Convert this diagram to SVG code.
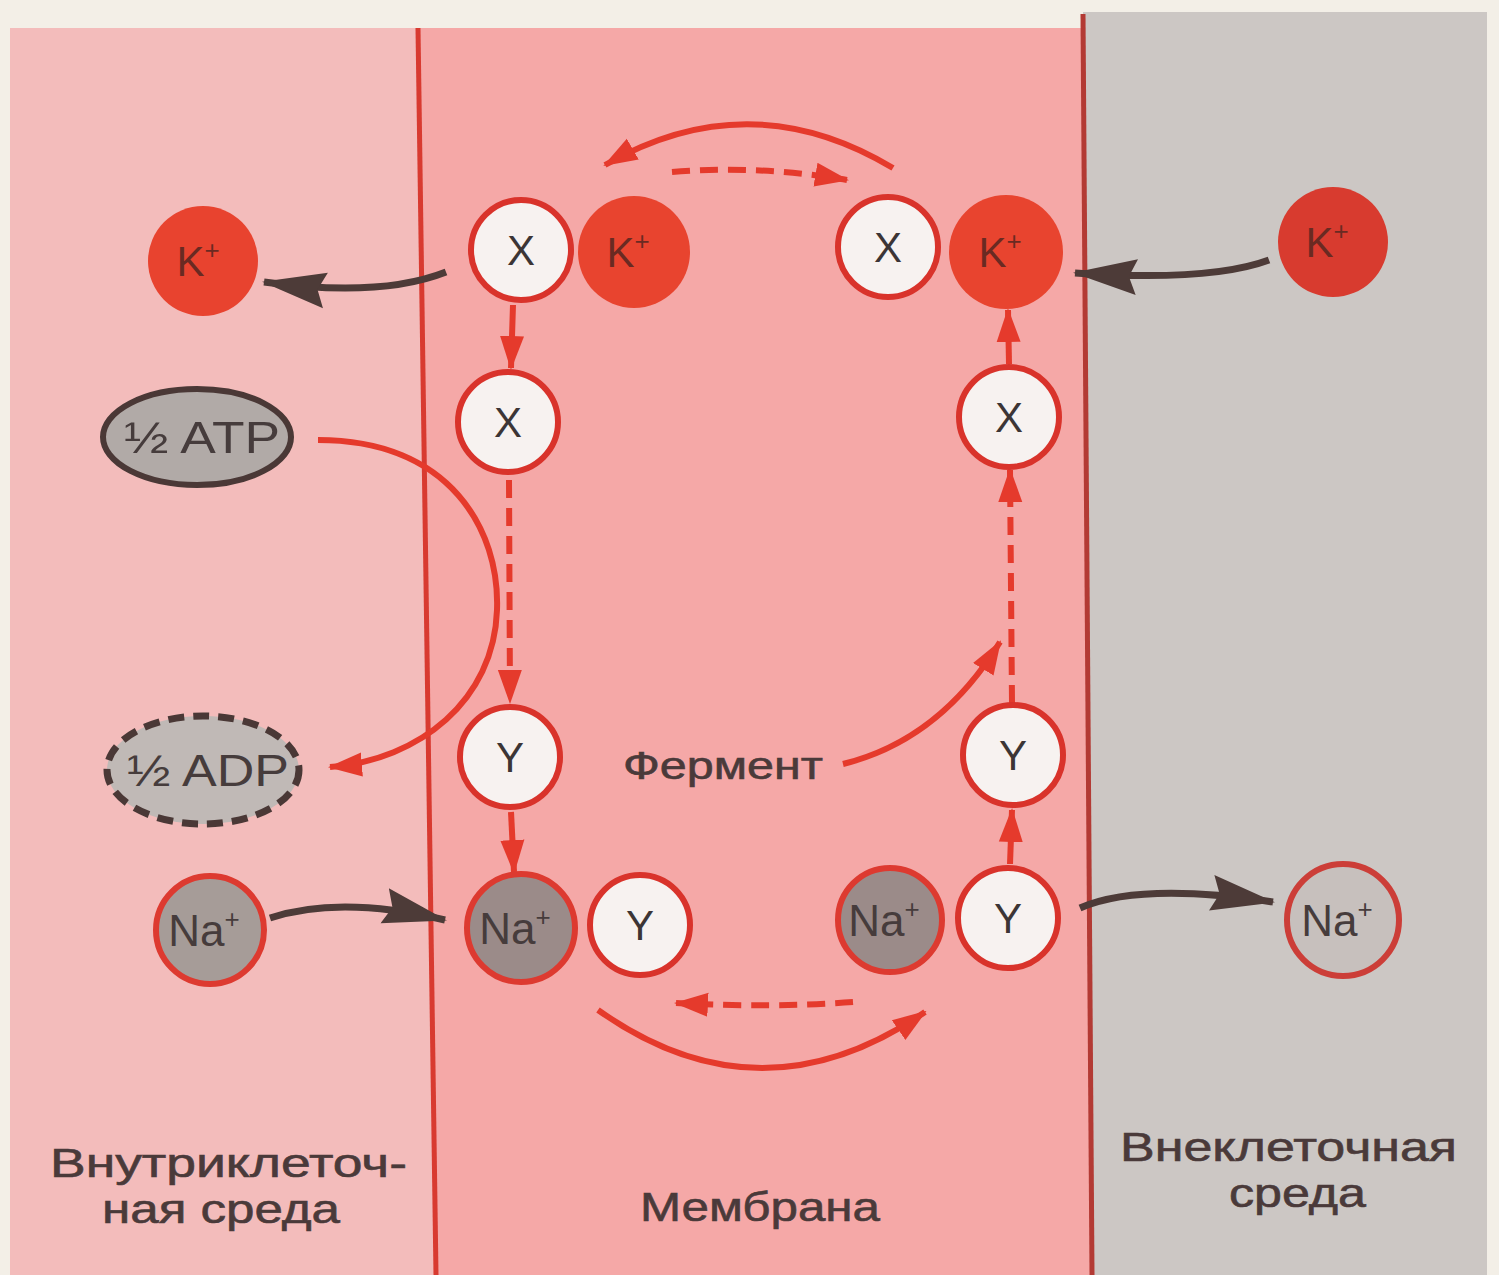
<svg xmlns="http://www.w3.org/2000/svg" width="1499" height="1275" viewBox="0 0 1499 1275">
<defs>
<style>
.lbl{font-family:"Liberation Sans",Arial,sans-serif;fill:#4a3a3a;stroke:#4a3a3a;stroke-width:0.6}
.ct{font-family:"Liberation Sans",Arial,sans-serif;font-size:42px;fill:#3c3535;text-anchor:middle}
.kt{font-family:"Liberation Sans",Arial,sans-serif;font-size:42px;fill:#6a2a22;text-anchor:middle}
.nt{font-family:"Liberation Sans",Arial,sans-serif;font-size:44px;fill:#463c3c;text-anchor:middle}
.w{fill:#f7f2f0;stroke:#d9332b;stroke-width:6}
.k{fill:#e8442f}
.na{fill:#9b8b89;stroke:#dd3a30;stroke-width:6}
.ra{fill:none;stroke:#e53a2c;stroke-width:6}
.rd{fill:none;stroke:#e53a2c;stroke-width:6;stroke-dasharray:18 10}
.da{fill:none;stroke:#4d3b38;stroke-width:7}
</style>
<marker id="rh" markerUnits="userSpaceOnUse" markerWidth="34" markerHeight="28" refX="32" refY="14" orient="auto">
<path d="M0,2 L34,14 L0,26 Z" fill="#e53a2c"/>
</marker>
<marker id="dh" markerUnits="userSpaceOnUse" markerWidth="64" markerHeight="40" refX="62" refY="20" orient="auto">
<path d="M0,2 L64,20 L0,38 L8,20 Z" fill="#4d3b38"/>
</marker>
</defs>
<rect x="0" y="0" width="1499" height="1275" fill="#f3efe7"/>
<polygon points="10,28 418,28 436,1275 10,1275" fill="#f3bcbb"/>
<polygon points="418,28 1083,28 1092,1275 436,1275" fill="#f5a8a7"/>
<polygon points="1083,12 1487,12 1487,1275 1092,1275" fill="#ccc7c4"/>
<line x1="418" y1="28" x2="436" y2="1275" stroke="#d83a30" stroke-width="5"/>
<line x1="1083" y1="14" x2="1092" y2="1275" stroke="#b33a34" stroke-width="5"/>

<g id="connectors">
<path class="da" d="M446,272 Q380,298 264,282" marker-end="url(#dh)"/>
<path class="da" d="M1269,260 Q1210,282 1075,273" marker-end="url(#dh)"/>
<path class="da" d="M270,918 Q340,895 445,920" marker-end="url(#dh)"/>
<path class="da" d="M1080,908 Q1140,882 1273,902" marker-end="url(#dh)"/>
<path class="ra" d="M893,168 Q750,82 605,165" marker-end="url(#rh)"/>
<path class="rd" d="M672,172 Q760,165 847,180" marker-end="url(#rh)"/>
<path class="ra" d="M598,1010 Q760,1125 925,1012" marker-end="url(#rh)"/>
<path class="rd" d="M853,1002 Q770,1008 676,1003" marker-end="url(#rh)"/>
<path class="ra" d="M318,440 C450,440 500,530 497,610 C494,700 420,760 330,767" marker-end="url(#rh)"/>
<path class="ra" d="M843,764 Q940,740 1000,642" marker-end="url(#rh)"/>
<path class="ra" d="M513,305 L511,368" marker-end="url(#rh)"/>
<path class="rd" d="M509,480 L510,702" marker-end="url(#rh)"/>
<path class="ra" d="M511,812 L514,872" marker-end="url(#rh)"/>
<path class="rd" d="M1012,703 L1010,470" marker-end="url(#rh)"/>
<path class="ra" d="M1009,364 L1008,310" marker-end="url(#rh)"/>
<path class="ra" d="M1010,864 L1012,810" marker-end="url(#rh)"/>
</g>

<g id="k-in"><circle cx="203" cy="261" r="55" fill="#e8432f"/><text class="kt" x="198" y="276">K<tspan font-size="26" dy="-17">+</tspan></text></g>
<g id="x-tl"><circle class="w" cx="521" cy="250" r="50"/><text class="ct" x="521" y="265">X</text></g>
<g id="k-tl"><circle class="k" cx="634" cy="252" r="56"/><text class="kt" x="628" y="267">K<tspan font-size="26" dy="-17">+</tspan></text></g>
<g id="x-tr"><circle class="w" cx="888" cy="247" r="50"/><text class="ct" x="888" y="262">X</text></g>
<g id="k-tr"><circle class="k" cx="1006" cy="252" r="57"/><text class="kt" x="1000" y="267">K<tspan font-size="26" dy="-17">+</tspan></text></g>
<g id="k-out"><circle cx="1333" cy="242" r="55" fill="#d83b2f"/><text class="kt" x="1327" y="257">K<tspan font-size="26" dy="-17">+</tspan></text></g>
<g id="atp"><ellipse cx="197" cy="437" rx="94" ry="48" fill="#b1aaa7" stroke="#4a3836" stroke-width="6"/><text class="nt" x="124" y="453" style="text-anchor:start" textLength="156" lengthAdjust="spacingAndGlyphs">½ ATP</text></g>
<g id="adp"><ellipse cx="203" cy="770" rx="96" ry="54" fill="#c0b9b6" stroke="#4a3836" stroke-width="7" stroke-dasharray="16 9"/><text class="nt" x="127" y="786" style="text-anchor:start" textLength="162" lengthAdjust="spacingAndGlyphs">½ ADP</text></g>
<g id="x-l"><circle class="w" cx="508" cy="422" r="50"/><text class="ct" x="508" y="437">X</text></g>
<g id="x-r"><circle class="w" cx="1009" cy="417" r="50"/><text class="ct" x="1009" y="432">X</text></g>
<g id="y-l"><circle class="w" cx="510" cy="757" r="50"/><text class="ct" x="510" y="772">Y</text></g>
<g id="y-r"><circle class="w" cx="1013" cy="755" r="50"/><text class="ct" x="1013" y="770">Y</text></g>
<g id="ferment"><text class="lbl" x="623" y="779" font-size="38" textLength="200" lengthAdjust="spacingAndGlyphs">Фермент</text></g>
<g id="na-in"><circle class="na" cx="210" cy="930" r="54" style="fill:#a69c98"/><text class="nt" x="204" y="946">Na<tspan font-size="26" dy="-18">+</tspan></text></g>
<g id="na-bl"><circle class="na" cx="521" cy="928" r="54"/><text class="nt" x="515" y="944">Na<tspan font-size="26" dy="-18">+</tspan></text></g>
<g id="y-bl"><circle class="w" cx="640" cy="925" r="50"/><text class="ct" x="640" y="940">Y</text></g>
<g id="na-br"><circle class="na" cx="890" cy="920" r="52"/><text class="nt" x="884" y="936">Na<tspan font-size="26" dy="-18">+</tspan></text></g>
<g id="y-br"><circle class="w" cx="1008" cy="918" r="50"/><text class="ct" x="1008" y="933">Y</text></g>
<g id="na-out"><circle class="na" cx="1343" cy="920" r="56" style="fill:#c7c0bd;stroke:#cc3e38"/><text class="nt" x="1337" y="936">Na<tspan font-size="26" dy="-18">+</tspan></text></g>

<g id="label-in"><text class="lbl" x="50" y="1177" font-size="40" textLength="357" lengthAdjust="spacingAndGlyphs">Внутриклеточ-</text><text class="lbl" x="102" y="1223" font-size="40" textLength="238" lengthAdjust="spacingAndGlyphs">ная среда</text></g>
<g id="label-mem"><text class="lbl" x="640" y="1221" font-size="40" textLength="240" lengthAdjust="spacingAndGlyphs">Мембрана</text></g>
<g id="label-out"><text class="lbl" x="1120" y="1161" font-size="40" textLength="337" lengthAdjust="spacingAndGlyphs">Внеклеточная</text><text class="lbl" x="1229" y="1207" font-size="40" textLength="137" lengthAdjust="spacingAndGlyphs">среда</text></g>
</svg>
